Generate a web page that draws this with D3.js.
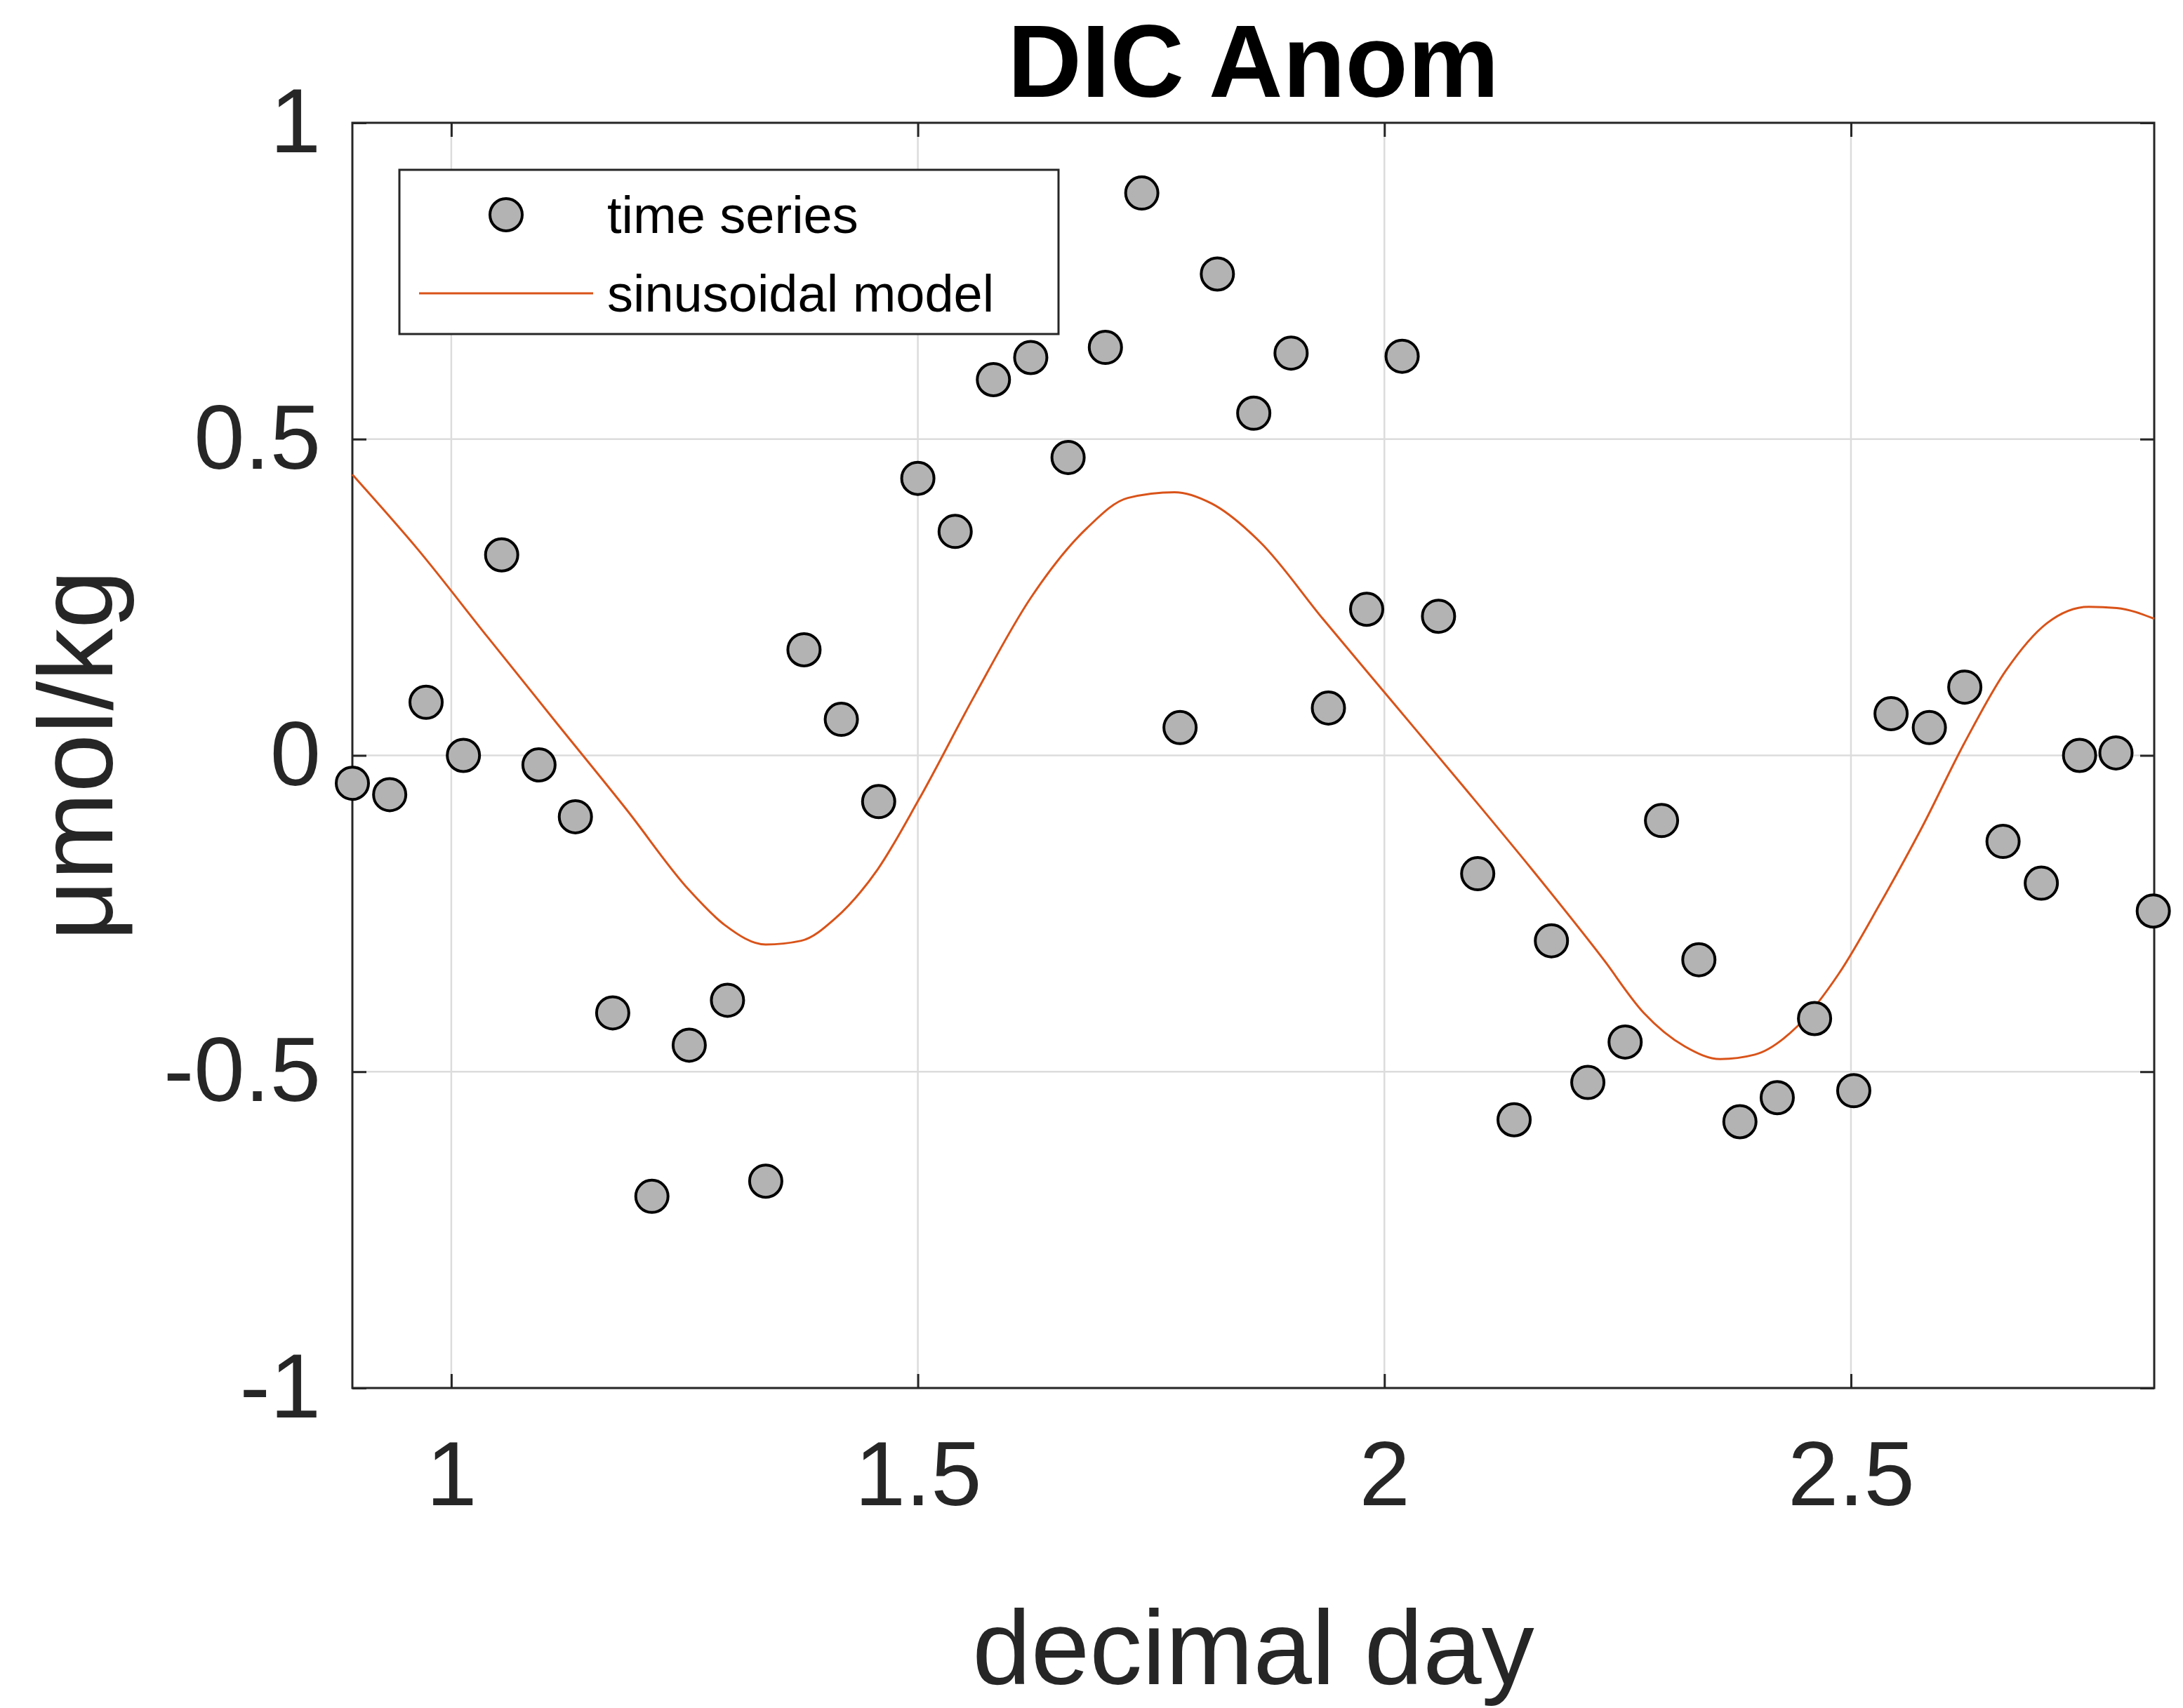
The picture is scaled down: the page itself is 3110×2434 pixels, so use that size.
<!DOCTYPE html>
<html><head><meta charset="utf-8">
<script src="https://cdn.jsdelivr.net/npm/d3@7"></script>
<style>body{margin:0;background:#fff}svg{font-family:"Liberation Sans",Arial,sans-serif}</style>
</head><body>
<script>
// observations
var obsDay = [0.894,0.934,0.973,1.013,1.054,1.094,1.133,1.173,1.215,1.255,1.296,1.337,1.378,1.418,1.458,1.500,1.540,1.581,1.621,1.661,1.701,1.740,1.781,1.821,1.860,1.900,1.940,1.981,2.019,2.058,2.100,2.139,2.179,2.218,2.258,2.297,2.337,2.381,2.421,2.461,2.503,2.543,2.584,2.622,2.663,2.704,2.745,2.784,2.824];
var obsVal = [-0.044,-0.062,0.084,0,0.317,-0.015,-0.097,-0.407,-0.697,-0.458,-0.387,-0.673,0.167,0.057,-0.073,0.438,0.354,0.594,0.629,0.471,0.645,0.889,0.044,0.761,0.541,0.636,0.075,0.231,0.631,0.220,-0.187,-0.576,-0.293,-0.517,-0.453,-0.103,-0.323,-0.579,-0.541,-0.416,-0.530,0.066,0.044,0.108,-0.136,-0.202,0,0.004,-0.246];
// sinusoidal model
var modDay = [0.894,0.964,1.039,1.113,1.188,1.255,1.293,1.337,1.375,1.412,1.457,1.501,1.561,1.621,1.681,1.725,1.775,1.815,1.867,1.934,2.009,2.084,2.158,2.233,2.278,2.322,2.360,2.397,2.442,2.487,2.531,2.576,2.621,2.666,2.710,2.755,2.785,2.825];
var modVal = [0.444,0.326,0.187,0.051,-0.086,-0.213,-0.268,-0.299,-0.293,-0.257,-0.180,-0.070,0.095,0.249,0.359,0.407,0.416,0.398,0.337,0.216,0.084,-0.048,-0.180,-0.319,-0.407,-0.460,-0.480,-0.473,-0.429,-0.345,-0.235,-0.114,0.018,0.134,0.209,0.235,0.233,0.216];
var xTicks = [1,1.5,2,2.5];
var yTicks = [-1,-0.5,0,0.5,1];

var W = 3110, H = 2434;
var m = {left:502, right:W-3069, top:175, bottom:H-1978};
var w = W-m.left-m.right, h = H-m.top-m.bottom;

var svg = d3.select("body").append("svg").attr("width",W).attr("height",H);
var g = svg.append("g").attr("transform","translate("+m.left+","+m.top+")");

var x = d3.scaleLinear().domain([0.894,2.825]).range([0,w]);
var y = d3.scaleLinear().domain([-1,1]).range([h,0]);
var fmt = function(d){ return String(d); };

// grid
g.selectAll(".gx").data(xTicks).enter().append("line")
  .attr("x1",d=>x(d)).attr("x2",d=>x(d)).attr("y1",0).attr("y2",h)
  .attr("stroke","#dcdcdc").attr("stroke-width",2.5);
g.selectAll(".gy").data(yTicks).enter().append("line")
  .attr("y1",d=>y(d)).attr("y2",d=>y(d)).attr("x1",0).attr("x2",w)
  .attr("stroke","#dcdcdc").attr("stroke-width",2.5);

// axes with inward ticks
function styleAxis(sel){
  sel.select(".domain").remove();
  sel.selectAll("line").attr("stroke","#262626").attr("stroke-width",3);
  sel.selectAll("text").attr("fill","#262626").style("font-size","130px");
}
g.append("g").attr("transform","translate(0,"+h+")")
  .call(d3.axisBottom(x).tickValues(xTicks).tickFormat(fmt).tickSize(-20).tickPadding(75))
  .call(styleAxis);
g.append("g")
  .call(d3.axisTop(x).tickValues(xTicks).tickFormat("").tickSize(-20)).call(styleAxis);
g.append("g")
  .call(d3.axisLeft(y).tickValues(yTicks).tickFormat(fmt).tickSize(-20).tickPadding(45))
  .call(styleAxis);
g.append("g").attr("transform","translate("+w+",0)")
  .call(d3.axisRight(y).tickValues(yTicks).tickFormat("").tickSize(-20)).call(styleAxis);
g.append("rect").attr("width",w).attr("height",h).attr("fill","none")
  .attr("stroke","#262626").attr("stroke-width",3);

// model line
var line = d3.line().x(d=>x(d[0])).y(d=>y(d[1])).curve(d3.curveMonotoneX);
g.append("path").datum(d3.zip(modDay,modVal)).attr("d",line)
  .attr("fill","none").attr("stroke","#d95319").attr("stroke-width",3);

// points
g.selectAll(".pt").data(d3.zip(obsDay,obsVal)).enter().append("circle")
  .attr("cx",d=>x(d[0])).attr("cy",d=>y(d[1])).attr("r",23)
  .attr("fill","#b3b3b3").attr("stroke","#000").attr("stroke-width",4);

// legend
var lg = svg.append("g").attr("transform","translate(569,242)");
lg.append("rect").attr("width",939).attr("height",234).attr("fill","#fff")
  .attr("stroke","#262626").attr("stroke-width",3);
lg.append("circle").attr("cx",152).attr("cy",64).attr("r",23)
  .attr("fill","#b3b3b3").attr("stroke","#000").attr("stroke-width",4);
lg.append("line").attr("x1",28).attr("x2",276).attr("y1",176).attr("y2",176)
  .attr("stroke","#d95319").attr("stroke-width",3);
lg.append("text").attr("x",296).attr("y",90).text("time series").style("font-size","74px").attr("fill","#000");
lg.append("text").attr("x",296).attr("y",202).text("sinusoidal model").style("font-size","74px").attr("fill","#000");

// titles
svg.append("text").attr("x",m.left+w/2).attr("y",138).attr("text-anchor","middle")
  .style("font-size","146px").style("font-weight","bold").text("DIC Anom");
svg.append("text").attr("x",m.left+w/2).attr("y",2400).attr("text-anchor","middle")
  .style("font-size","150px").attr("fill","#262626").text("decimal day");
svg.append("text").attr("transform","translate(160,"+(m.top+h/2)+") rotate(-90)")
  .attr("text-anchor","middle").style("font-size","150px").attr("fill","#262626").text("μmol/kg");
</script>
</body></html>
